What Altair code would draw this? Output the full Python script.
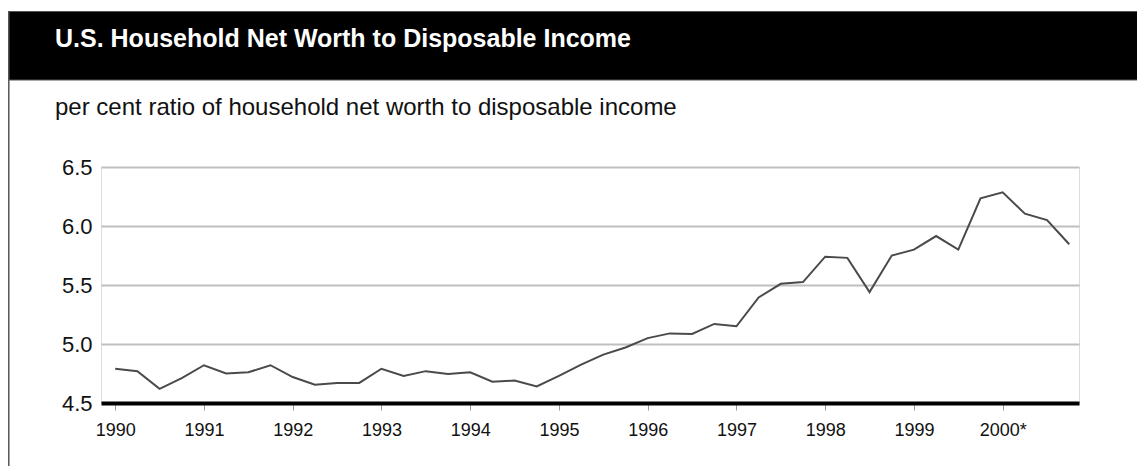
import altair as alt
import pandas as pd

# ---- data ----
years = list(range(1990, 2001))
quarters = [0, 1, 2, 3]
ratio = [
    4.79, 4.77, 4.62, 4.71,
    4.82, 4.75, 4.76, 4.82,
    4.72, 4.655, 4.67, 4.67,
    4.79, 4.73, 4.77, 4.745,
    4.76, 4.68, 4.69, 4.64,
    4.73, 4.825, 4.91, 4.97,
    5.05, 5.09, 5.085, 5.17,
    5.15, 5.395, 5.51, 5.525,
    5.74, 5.73, 5.44, 5.75,
    5.80, 5.915, 5.80, 6.235,
    6.285, 6.105, 6.05, 5.845,
]
tick_years = years
tick_labels = ["1990", "1991", "1992", "1993", "1994", "1995",
               "1996", "1997", "1998", "1999", "2000*"]
y_ticks = [4.5, 5.0, 5.5, 6.0, 6.5]

title_text = "U.S. Household Net Worth to Disposable Income"
subtitle_text = "per cent ratio of household net worth to disposable income"

period = [y + q / 4 for y in years for q in quarters]
df = pd.DataFrame({"t": period, "ratio": ratio})

label_expr = "datum.label"
for yv, lab in zip(tick_years, tick_labels):
    if str(yv) != lab:
        label_expr = f"datum.value == {yv} ? '{lab}' : " + label_expr

W, H = 978, 236
PAD_L, PAD_T, PAD_R, PAD_B = 93, 159, 58, 63
FONT = "Liberation Sans"

x_scale = alt.Scale(domain=[1989.84, 2000.86], nice=False, zero=False)
y_scale = alt.Scale(domain=[4.5, 6.5], nice=False, zero=False)

line = alt.Chart(df).mark_line(color="#4a4a4a", strokeWidth=2).encode(
    x=alt.X("t:Q", scale=x_scale, axis=alt.Axis(
        values=tick_years, format="d", labelExpr=label_expr, title=None,
        grid=False, domainColor="black", domainWidth=4, tickColor="#9a9a9a",
        tickWidth=1, tickSize=7, labelPadding=11, labelFontSize=18,
        labelColor="#111111", labelFont=FONT)),
    y=alt.Y("ratio:Q", scale=y_scale, axis=alt.Axis(
        values=y_ticks, format=".1f", title=None, domain=False, ticks=False,
        grid=True, gridColor="#bfbfbf", gridWidth=2, labelPadding=9,
        labelFontSize=22, labelColor="#111111", labelFont=FONT)),
)

band_df = pd.DataFrame({"k": [0]})
band = alt.Chart(band_df).mark_rect(color="black", stroke="#555555", strokeWidth=1).encode(
    x=alt.value(-92.5), x2=alt.value(PAD_R + W + 5),
    y=alt.value(-155.5), y2=alt.value(-87),
)
border = alt.Chart(band_df).mark_rule(color="#555555", strokeWidth=1.5).encode(
    x=alt.value(-92.2), y=alt.value(-156), y2=alt.value(H + PAD_B),
)

title = alt.Chart(pd.DataFrame({"txt": [title_text]})).mark_text(
    align="left", baseline="alphabetic", color="white", font=FONT,
    fontWeight="bold", fontSize=25,
).encode(x=alt.value(-46), y=alt.value(-120), text="txt:N")

subtitle = alt.Chart(pd.DataFrame({"txt": [subtitle_text]})).mark_text(
    align="left", baseline="alphabetic", color="#111111", font=FONT, fontSize=24,
).encode(x=alt.value(-46), y=alt.value(-52), text="txt:N")

chart = alt.layer(band, border, title, subtitle, line).properties(
    width=W, height=H,
    autosize=alt.AutoSizeParams(type="none"),
    padding={"left": PAD_L, "top": PAD_T, "right": PAD_R, "bottom": PAD_B},
).configure_view(stroke="transparent").configure(background="white")

chart.save("out.html", embed_options={"renderer": "svg", "actions": False})
